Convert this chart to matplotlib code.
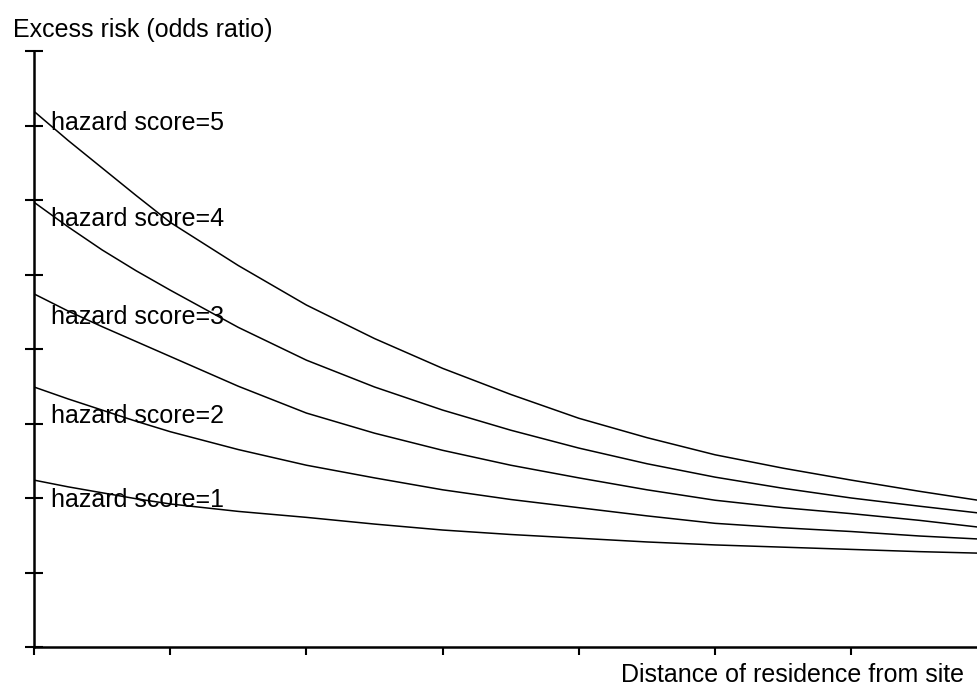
import numpy as np
import matplotlib
matplotlib.use('Agg')
import matplotlib.pyplot as plt

plt.rcParams['font.family'] = ['Liberation Sans', 'DejaVu Sans']

# distance from site (in tick units) and odds ratio
distancia = [0, 0.25, 0.5, 0.75, 1, 1.5, 2, 2.5, 3, 3.5, 4, 4.5, 5, 5.5, 6, 6.5, 6.93]
score5 = [7.19, 6.80, 6.43, 6.06, 5.70, 5.12, 4.59, 4.14, 3.74, 3.39, 3.07, 2.81,
          2.58, 2.40, 2.24, 2.09, 1.97]
score4 = [5.97, 5.64, 5.33, 5.05, 4.79, 4.29, 3.85, 3.49, 3.18, 2.91, 2.67, 2.46,
          2.28, 2.13, 2.00, 1.89, 1.80]
score3 = [4.74, 4.51, 4.30, 4.10, 3.90, 3.50, 3.14, 2.87, 2.64, 2.44, 2.27, 2.11,
          1.97, 1.87, 1.79, 1.70, 1.61]
score2 = [3.49, 3.33, 3.18, 3.03, 2.89, 2.65, 2.44, 2.27, 2.11, 1.98, 1.87, 1.76,
          1.66, 1.60, 1.55, 1.49, 1.45]
score1 = [2.24, 2.15, 2.07, 1.99, 1.92, 1.82, 1.74, 1.65, 1.57, 1.51, 1.46, 1.41,
          1.37, 1.34, 1.31, 1.28, 1.26]

etiquetas = ['hazard score=5', 'hazard score=4', 'hazard score=3',
             'hazard score=2', 'hazard score=1']
etiqueta_y = [6.94, 5.65, 4.34, 3.01, 1.88]  # baseline of each label

fig = plt.figure(figsize=(9.78, 6.91), dpi=100)
ax = fig.add_axes([34 / 978, 44 / 691, (978 - 34) / 978, (647 - 51) / 691])

for serie in [score5, score4, score3, score2, score1]:
    ax.plot(distancia, serie, color='black', lw=1.1)

for txt, y in zip(etiquetas, etiqueta_y):
    ax.text(0.125, y, txt, fontsize=18, va='baseline', ha='left')

ax.set_xlim(0, 6.93)
ax.set_ylim(0, 8)
ax.set_xticks(range(0, 7))
ax.set_yticks(range(0, 9))
ax.set_xticklabels([])
ax.set_yticklabels([])
ax.tick_params(axis='y', direction='inout', length=13, width=1.5)
ax.tick_params(axis='x', direction='out', length=6, width=1.5)
for s in ['top', 'right']:
    ax.spines[s].set_visible(False)
for s in ['left', 'bottom']:
    ax.spines[s].set_linewidth(1.8)
ax.patch.set_visible(False)

fig.text(13 / 978, 1 - 37 / 691, 'Excess risk (odds ratio)', fontsize=18,
         va='baseline', ha='left')
fig.text(964 / 978, 1 - 682 / 691, 'Distance of residence from site',
         fontsize=18, va='baseline', ha='right')

plt.savefig('out.png', dpi=100)
